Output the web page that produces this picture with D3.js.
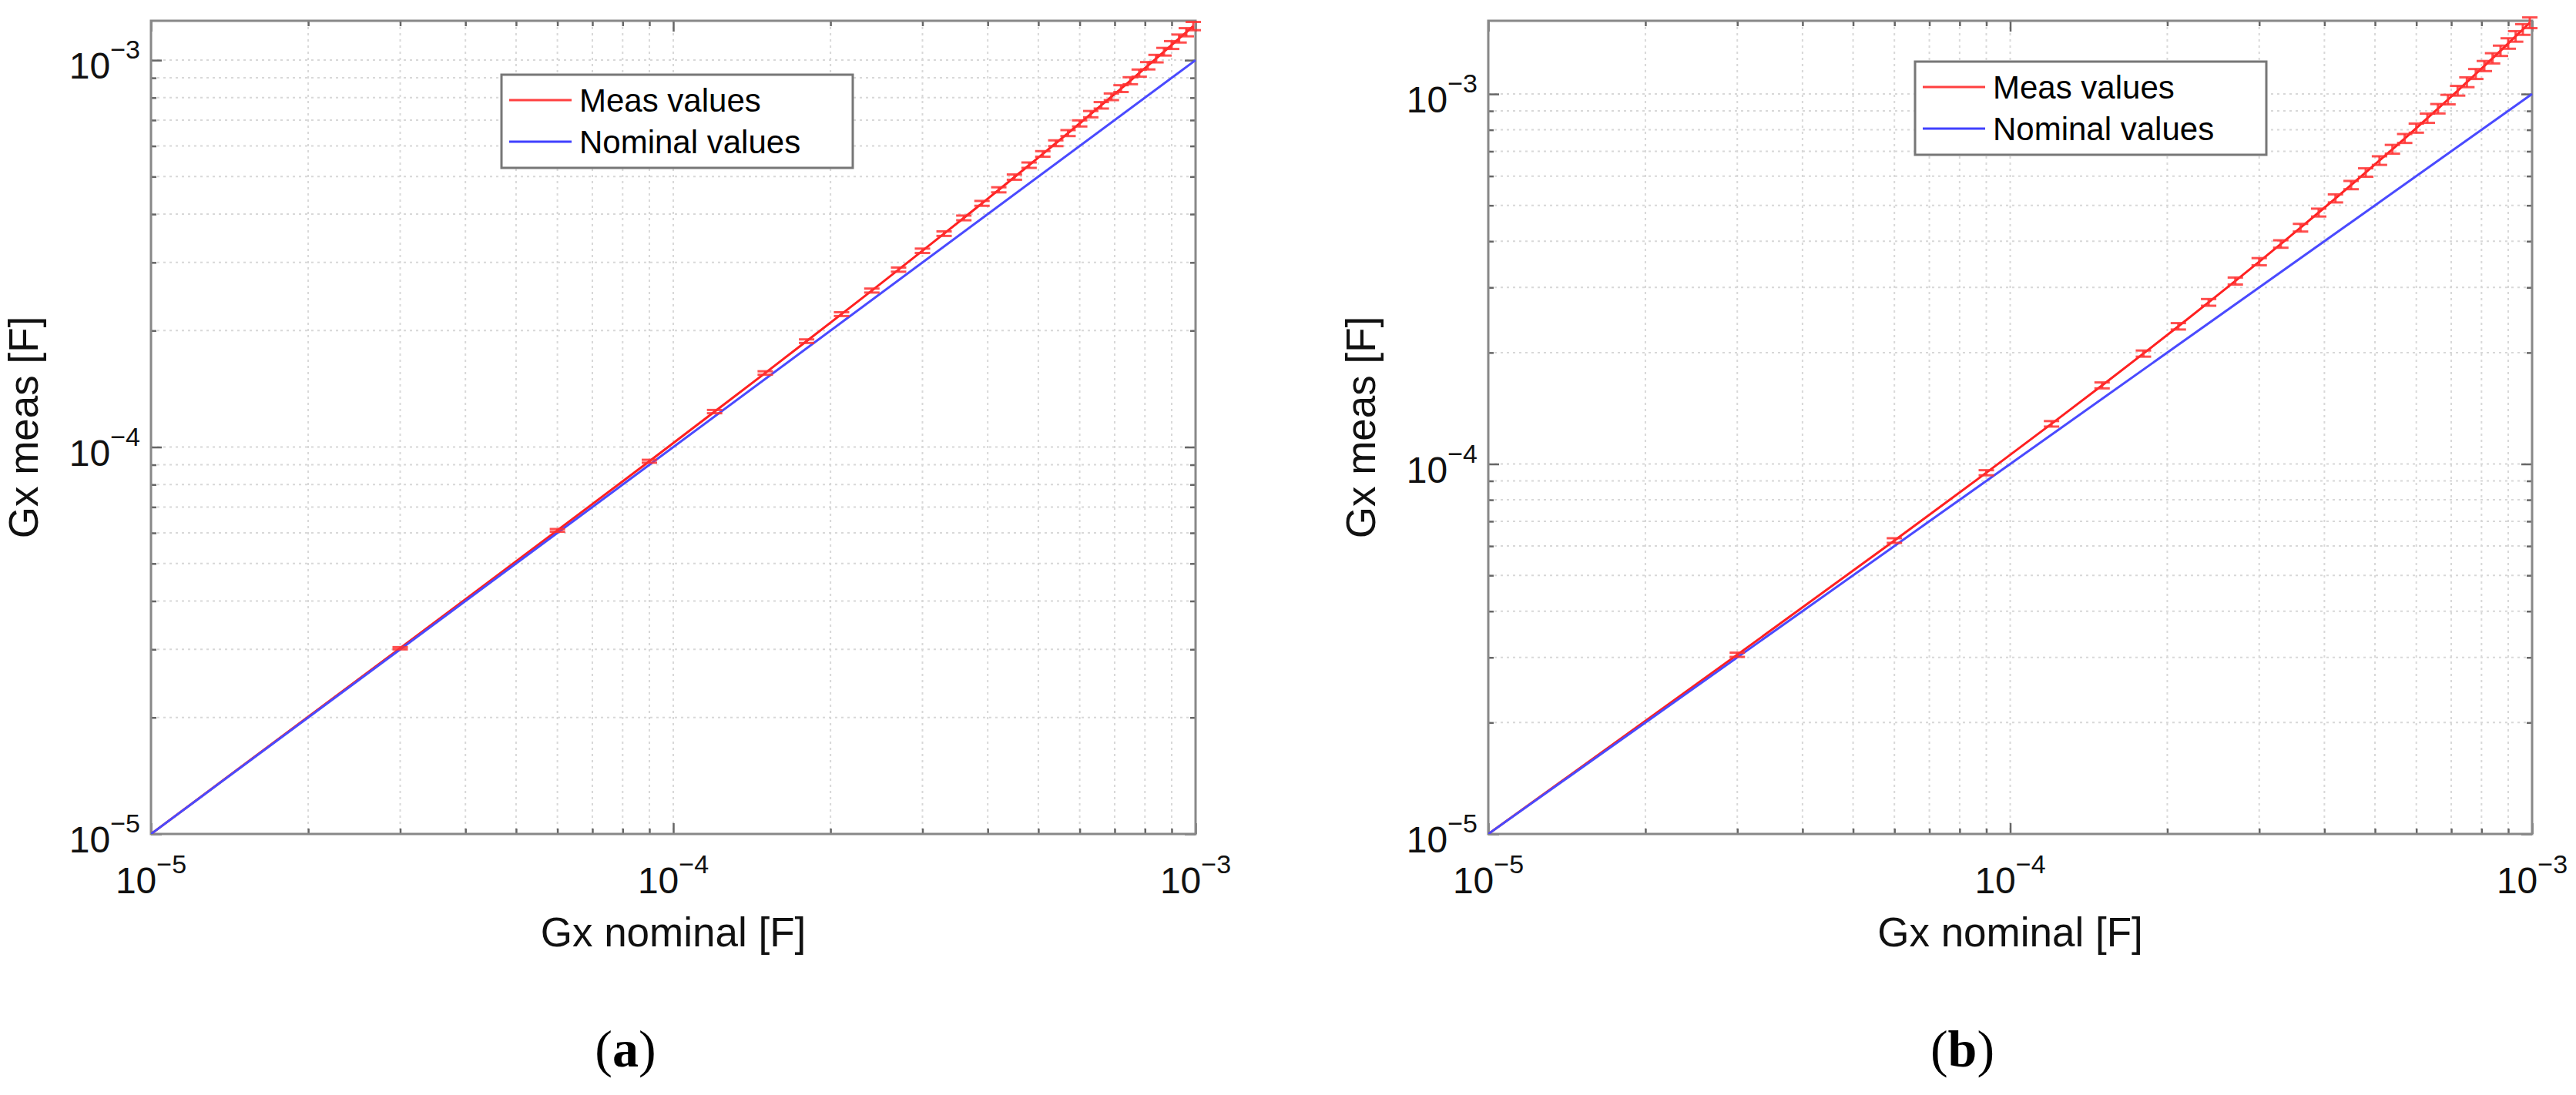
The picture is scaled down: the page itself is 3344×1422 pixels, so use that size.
<!DOCTYPE html>
<html><head><meta charset="utf-8">
<script src="https://cdn.jsdelivr.net/npm/d3@7"></script>
<style>body{margin:0;background:#fff}text{font-family:"Liberation Sans",Arial,sans-serif}text.serif{font-family:"Liberation Serif","Times New Roman",serif}</style>
</head><body>
<svg id="c" width="3344" height="1422"></svg>
<script>
// nominal values (units of 1e-4 F)
const nominal = [0.1,0.3,0.6,0.9,1.2,1.5,1.8,2.1,2.4,2.7,3.0,3.3,3.6,3.9,4.2,4.5,4.8,5.1,5.4,5.7,6.0,6.3,6.6,6.9,7.2,7.5,7.8,8.1,8.4,8.7,9.0,9.3,9.6,9.9];
const measA = [0.1,0.302,0.609,0.919,1.235,1.554,1.878,2.206,2.538,2.875,3.216,3.561,3.911,4.265,4.623,4.986,5.353,5.724,6.100,6.480,6.864,7.253,7.645,8.043,8.444,8.850,9.260,9.675,10.093,10.517,10.944,11.376,11.812,12.252];
const errA = [0,0.002,0.005,0.008,0.012,0.016,0.02,0.025,0.03,0.036,0.042,0.048,0.055,0.062,0.07,0.078,0.086,0.095,0.105,0.115,0.125,0.136,0.147,0.159,0.171,0.184,0.197,0.211,0.225,0.24,0.255,0.27,0.286,0.3];
const measB = [0.101,0.305,0.621,0.947,1.284,1.631,1.988,2.356,2.734,3.123,3.522,3.932,4.352,4.782,5.223,5.675,6.136,6.609,7.091,7.584,8.088,8.602,9.126,9.661,10.207,10.763,11.329,11.905,12.492,13.090,13.698,14.316,14.945,15.585];
const errB = [0,0.004,0.009,0.015,0.022,0.03,0.038,0.047,0.057,0.068,0.079,0.091,0.104,0.117,0.131,0.146,0.161,0.177,0.194,0.211,0.229,0.248,0.267,0.287,0.308,0.329,0.351,0.374,0.397,0.421,0.446,0.471,0.497,0.52];
const xTickLabels = ["−5","−4","−3"];
const legendLabels = ["Meas values","Nominal values"];
const xLabel = "Gx nominal [F]", yLabel = "Gx meas [F]";
const panelLabels = ["a","b"];

const svg = d3.select("#c");
const panels = [
  {L:196,R:1552,T:27,B:1083,ymax:1.264e-3,meas:measA,err:errA,leg:[651,97,456,121],lab:panelLabels[0]},
  {L:1932,R:3287,T:27,B:1083,ymax:1.577e-3,meas:measB,err:errB,leg:[2486,80,456,121],lab:panelLabels[1]}
];
const majors=[1e-5,1e-4,1e-3];
function minors(ymax){const a=[];for(let e=-5;e<=-3;e++)for(let k=1;k<=9;k++){const v=k*Math.pow(10,e);if(v<=ymax*1.0001)a.push(v);}return a;}

panels.forEach(p=>{
  const x=d3.scaleLog().domain([1e-5,1e-3]).range([p.L,p.R]);
  const y=d3.scaleLog().domain([1e-5,p.ymax]).range([p.B,p.T]);
  const g=svg.append("g");
  const xm=minors(1e-3), ym=minors(p.ymax);
  g.selectAll(".gx").data(xm).join("line").attr("x1",d=>x(d)).attr("x2",d=>x(d)).attr("y1",p.T).attr("y2",p.B)
    .attr("stroke","#d8d8d8").attr("stroke-width",2).attr("stroke-dasharray","3,5");
  g.selectAll(".gy").data(ym).join("line").attr("y1",d=>y(d)).attr("y2",d=>y(d)).attr("x1",p.L).attr("x2",p.R)
    .attr("stroke","#d8d8d8").attr("stroke-width",2).attr("stroke-dasharray","3,5");
  const tl=d=>majors.includes(d)?14:7;
  const ax=(axis,tr)=>{const a=g.append("g").attr("transform",tr).call(axis);a.selectAll("text").remove();a.select(".domain").remove();a.selectAll("line").attr("stroke","#666").attr("stroke-width",2.5);return a;};
  ax(d3.axisBottom(x).tickValues(xm).tickSize(0),`translate(0,${p.B})`).selectAll("line").attr("y2",d=>-tl(d));
  ax(d3.axisTop(x).tickValues(xm).tickSize(0),`translate(0,${p.T})`).selectAll("line").attr("y2",d=>tl(d));
  ax(d3.axisLeft(y).tickValues(ym).tickSize(0),`translate(${p.L},0)`).selectAll("line").attr("x2",d=>tl(d));
  ax(d3.axisRight(y).tickValues(ym).tickSize(0),`translate(${p.R},0)`).selectAll("line").attr("x2",d=>-tl(d));
  g.append("rect").attr("x",p.L).attr("y",p.T).attr("width",p.R-p.L).attr("height",p.B-p.T).attr("fill","none").attr("stroke","#888").attr("stroke-width",3);
  majors.forEach((v,i)=>{
    const t=g.append("text").attr("x",x(v)).attr("y",1160).attr("text-anchor","middle").attr("font-size",48).attr("fill","#111");
    t.append("tspan").text("10");t.append("tspan").attr("dy",-26).attr("font-size",34).text(xTickLabels[i]);
    if(v<=p.ymax){const u=g.append("text").attr("x",p.L-14).attr("y",y(v)+24).attr("text-anchor","end").attr("font-size",48).attr("fill","#111");
    u.append("tspan").text("10");u.append("tspan").attr("dy",-26).attr("font-size",34).text(xTickLabels[i]);}
  });
  g.append("text").attr("x",(p.L+p.R)/2).attr("y",1229).attr("text-anchor","middle").attr("font-size",53).attr("fill","#111").text(xLabel);
  g.append("text").attr("transform",`translate(${p.L-147},${(p.T+p.B)/2}) rotate(-90)`).attr("text-anchor","middle").attr("font-size",53).attr("fill","#111").text(yLabel);
  const pl=g.append("text").attr("class","serif").attr("x",(p.L+p.R)/2-62).attr("y",1385).attr("text-anchor","middle").attr("font-size",68).attr("fill","#000");
  pl.append("tspan").text("(");pl.append("tspan").attr("font-weight","bold").text(p.lab);pl.append("tspan").text(")");
  const clip="clip"+p.lab;
  svg.append("clipPath").attr("id",clip).append("rect").attr("x",p.L).attr("y",p.T-12).attr("width",p.R-p.L+12).attr("height",p.B-p.T+12);
  const dg=g.append("g").attr("clip-path",`url(#${clip})`);
  const pts=nominal.map((n,i)=>({x:n*1e-4,m:p.meas[i]*1e-4,e:p.err[i]*1e-4}));
  const line=d3.line().x(d=>x(d.x)).y(d=>y(d.m));
  dg.append("path").datum([{x:1e-5,m:1e-5},...pts.slice(1)]).attr("d",line).attr("fill","none").attr("stroke","#ff2020").attr("stroke-width",3);
  dg.append("path").datum([{x:1e-5,m:1e-5},{x:1e-3,m:1e-3}]).attr("d",line).attr("fill","none").attr("stroke","#4a4aff").attr("stroke-width",3);
  const eb=dg.selectAll(".eb").data(pts.slice(1)).join("g").attr("stroke","#ff3030").attr("stroke-width",3).attr("stroke-opacity",0.85);
  eb.append("line").attr("x1",d=>x(d.x)).attr("x2",d=>x(d.x)).attr("y1",d=>y(d.m-d.e)).attr("y2",d=>y(d.m+d.e));
  eb.append("line").attr("x1",d=>x(d.x)-10).attr("x2",d=>x(d.x)+10).attr("y1",d=>y(d.m-d.e)).attr("y2",d=>y(d.m-d.e));
  eb.append("line").attr("x1",d=>x(d.x)-10).attr("x2",d=>x(d.x)+10).attr("y1",d=>y(d.m+d.e)).attr("y2",d=>y(d.m+d.e));
  const [lx,ly,lw,lh]=p.leg;
  g.append("rect").attr("x",lx).attr("y",ly).attr("width",lw).attr("height",lh).attr("fill","#fff").attr("stroke","#777").attr("stroke-width",3);
  [["#ff4040",legendLabels[0]],["#4040ff",legendLabels[1]]].forEach(([c,t],i)=>{
    const yy=ly+33+i*54;
    g.append("line").attr("x1",lx+10).attr("x2",lx+91).attr("y1",yy).attr("y2",yy).attr("stroke",c).attr("stroke-width",3);
    g.append("text").attr("x",lx+101).attr("y",yy+15).attr("font-size",42).attr("fill","#000").text(t);
  });
});
</script></body></html>
